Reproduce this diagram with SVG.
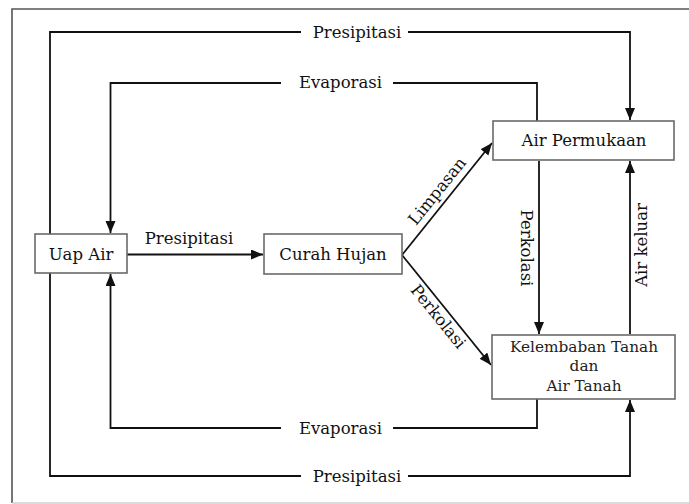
<svg xmlns="http://www.w3.org/2000/svg" width="689" height="504" viewBox="0 0 689 504">
<style>
.box{fill:#fff;stroke:#6a6a6a;stroke-width:1.6}
.ln{fill:none;stroke:#111;stroke-width:1.8}
.t{font-family:"DejaVu Serif","Liberation Serif",serif;font-size:16.5px;fill:#111;text-anchor:middle}
.s{font-family:"DejaVu Serif","Liberation Serif",serif;font-size:15.3px;fill:#222;text-anchor:middle}
</style>
<defs>
<marker id="ah" markerUnits="userSpaceOnUse" markerWidth="13" markerHeight="11" refX="12" refY="5" orient="auto">
<path d="M0,0 L12,5 L0,10 z" fill="#111"/>
</marker>
</defs>
<rect width="689" height="504" fill="#fff"/>
<g id="frame">
<path d="M12,503 V9 H689" fill="none" stroke="#555" stroke-width="1.6"/>
<path d="M12,503 H689" fill="none" stroke="#cfcfcf" stroke-width="1.5"/>
</g>
<g id="connectors">
<path class="ln" d="M301,32 H50 V476 H301"/>
<path class="ln" d="M408,32 H630 V120" marker-end="url(#ah)"/>
<path class="ln" d="M408,476 H630 V400" marker-end="url(#ah)"/>
<path class="ln" d="M537,121 V83 H393"/>
<path class="ln" d="M281,83 H110.5 V233" marker-end="url(#ah)"/>
<path class="ln" d="M537,399 V428 H393"/>
<path class="ln" d="M281,428 H110.5 V274" marker-end="url(#ah)"/>
<path class="ln" d="M127,254.5 H263" marker-end="url(#ah)"/>
<path class="ln" d="M402,255 L492,143" marker-end="url(#ah)"/>
<path class="ln" d="M402,255 L491,365" marker-end="url(#ah)"/>
<path class="ln" d="M539,161 V334" marker-end="url(#ah)"/>
<path class="ln" d="M630,334 V161" marker-end="url(#ah)"/>
<text class="t" x="357" y="38">Presipitasi</text>
<text class="t" x="340.5" y="87.5">Evaporasi</text>
<text class="t" x="340.5" y="434">Evaporasi</text>
<text class="t" x="357" y="481.5">Presipitasi</text>
<text class="t" x="189" y="244">Presipitasi</text>
<text class="t" transform="translate(441.5,194.5) rotate(-51.2)">Limpasan</text>
<text class="t" transform="translate(434,320) rotate(51)">Perkolasi</text>
<text class="t" transform="translate(521,248) rotate(90)">Perkolasi</text>
<text class="t" transform="translate(647,245) rotate(-90)">Air keluar</text>
</g>
<g id="uap-air">
<rect class="box" x="35" y="234" width="92" height="39"/>
<text class="t" x="81" y="259.5">Uap Air</text>
</g>
<g id="curah-hujan">
<rect class="box" x="264" y="234" width="138" height="40"/>
<text class="t" x="333" y="260">Curah Hujan</text>
</g>
<g id="air-permukaan">
<rect class="box" x="493" y="121" width="181" height="39"/>
<text class="t" x="584" y="146">Air Permukaan</text>
</g>
<g id="kelembaban">
<rect class="box" x="492" y="335" width="183" height="64"/>
<text class="s" x="584" y="352">Kelembaban Tanah</text>
<text class="s" x="584" y="371">dan</text>
<text class="s" x="584" y="390.5">Air Tanah</text>
</g>
</svg>
